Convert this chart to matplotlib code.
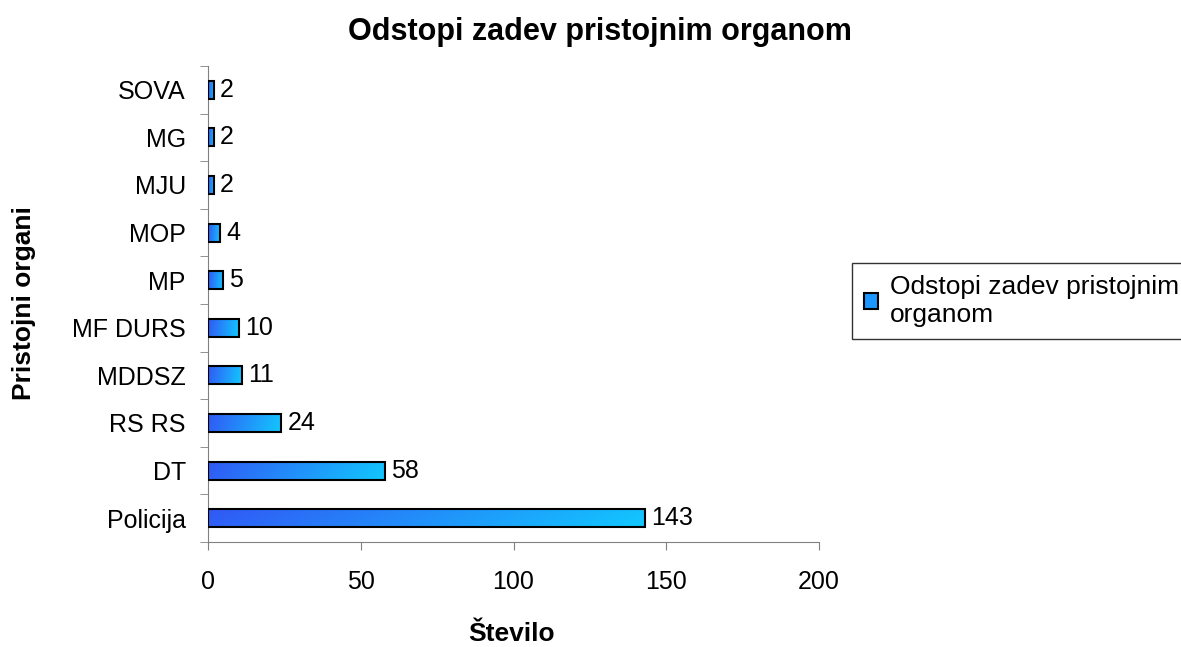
import numpy as np
import matplotlib.pyplot as plt
from matplotlib.patches import Rectangle, Patch
from matplotlib.colors import LinearSegmentedColormap

# Podatki
organi = ["Policija", "DT", "RS RS", "MDDSZ", "MF DURS", "MP", "MOP", "MJU", "MG", "SOVA"]
stevilo = [143, 58, 24, 11, 10, 5, 4, 2, 2, 2]

plt.rcParams['font.family'] = ['Liberation Sans', 'DejaVu Sans']

fig = plt.figure(figsize=(11.81, 6.47), dpi=100)
ax = fig.add_axes([208 / 1181, 1 - 542 / 647, (819 - 208) / 1181, (542 - 66) / 647])

cmap = LinearSegmentedColormap.from_list("grad", ["#3158f5", "#12c8ff"])
grad = np.linspace(0, 1, 256).reshape(1, -1)
grad = grad + np.linspace(0, 0.08, 8).reshape(-1, 1)

visina = 0.38
for i, v in enumerate(stevilo):
    rect = Rectangle((0, i - visina / 2), v, visina, facecolor='none',
                     edgecolor='black', linewidth=1.5, zorder=3)
    ax.add_patch(rect)
    im = ax.imshow(grad, cmap=cmap, aspect='auto', vmin=0, vmax=1.08,
                   extent=(0, v, i - visina / 2, i + visina / 2), zorder=2)
    im.set_clip_path(rect)
    ax.text(v + 2, i, str(v), va='center', ha='left', fontsize=18)

ax.set_xlim(0, 200)
ax.set_ylim(-0.5, len(organi) - 0.5)
ax.set_xticks([0, 50, 100, 150, 200])
ax.set_yticks(np.arange(len(organi)))
ax.set_yticklabels(organi)
ax.set_yticks(np.arange(len(organi) + 1) - 0.5, minor=True)
ax.tick_params(axis='y', which='major', length=0, pad=16, labelsize=18)
ax.tick_params(axis='y', which='minor', length=6, color='#808080')
ax.tick_params(axis='x', length=6, color='#808080', pad=14, labelsize=18)
for s in ['top', 'right']:
    ax.spines[s].set_visible(False)
for s in ['left', 'bottom']:
    ax.spines[s].set_color('#808080')

fig.text(512 / 1181, 1 - 634 / 647, "Število", fontsize=19, fontweight='bold',
         ha='center', va='center')
fig.text(24 / 1181, 1 - 303 / 647, "Pristojni organi", fontsize=19, fontweight='bold',
         ha='center', va='center', rotation=90)
fig.text(600 / 1181, 1 - 32 / 647, "Odstopi zadev pristojnim organom", fontsize=22,
         fontweight='bold', ha='center', va='center')

handle = Patch(facecolor='#1e96ff', edgecolor='black', linewidth=1.5)
leg = fig.legend([handle], ["Odstopi zadev pristojnim\norganom"], loc='upper left',
                 bbox_to_anchor=(852 / 1181, 1 - 263 / 647), fontsize=19,
                 frameon=True, fancybox=False, edgecolor='black',
                 handlelength=0.55, handleheight=0.55, handletextpad=0.45,
                 borderpad=0.45, borderaxespad=0, labelspacing=0.3)
leg.get_frame().set_linewidth(1.0)

fig.savefig("out.png", dpi=100)
